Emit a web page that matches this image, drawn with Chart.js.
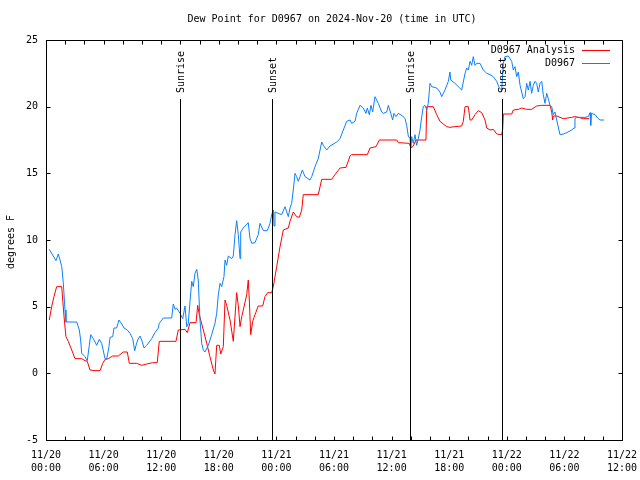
<!DOCTYPE html>
<html>
<head>
<meta charset="utf-8">
<title>Dew Point for D0967</title>
<script src="https://cdn.jsdelivr.net/npm/chart.js@4/dist/chart.umd.min.js"></script>
<style>
  html, body { margin: 0; padding: 0; background: #fff; }
</style>
</head>
<body>
<canvas id="dewChart" width="640" height="480"></canvas>
<script>
// === Data (hours since 11/20 00:00 UTC, degrees F) ===
const stationHours = [0.34,1.04,1.28,1.46,1.64,1.80,1.98,2.08,3.20,3.47,3.61,3.72,4.06,4.30,4.51,4.66,4.93,5.28,5.55,5.80,
  6.15,6.32,6.56,6.67,6.95,7.08,7.36,7.60,7.89,8.13,8.47,8.75,9.03,9.24,9.38,9.55,9.79,9.97,10.21,10.49,
  11.01,11.35,11.70,11.80,12.22,13.09,13.26,13.44,13.61,13.78,13.96,14.24,14.48,14.66,14.82,15.00,15.18,15.34,15.52,15.70,
  15.86,16.04,16.22,16.39,16.56,16.91,17.26,17.60,17.78,17.95,18.13,18.30,18.54,18.65,18.82,18.99,19.34,19.51,19.69,19.86,
  20.03,20.21,20.28,20.55,21.07,21.25,21.43,21.77,22.11,22.29,22.64,23.05,23.33,23.51,23.68,23.75,23.85,24.55,24.90,25.24,
  25.42,25.59,25.76,25.94,26.11,26.28,26.46,26.70,26.98,27.50,27.68,28.02,28.36,28.72,28.89,29.24,29.58,30.28,30.63,30.97,
  31.32,31.67,31.84,32.19,32.36,32.71,33.05,33.33,33.47,33.68,33.85,34.03,34.27,34.61,34.97,35.14,35.49,35.66,35.91,36.11,
  36.25,36.46,36.70,37.16,37.40,37.57,37.74,37.92,37.99,38.09,38.26,38.44,38.61,38.78,38.96,39.14,39.30,39.48,39.66,39.82,
  40.00,40.18,40.70,41.04,41.22,41.56,41.91,42.08,42.16,42.60,43.30,43.65,43.82,43.99,44.17,44.34,44.51,44.69,44.86,45.21,
  45.55,45.91,46.25,46.59,46.95,47.22,47.47,47.64,47.81,48.16,48.51,48.68,48.85,49.03,49.20,49.38,49.55,49.72,49.90,50.07,
  50.24,50.42,50.59,50.76,50.94,51.11,51.28,51.46,51.64,51.80,51.98,52.16,52.32,52.50,52.68,52.84,53.02,53.20,53.54,53.89,
  54.24,54.76,55.00,55.10,55.28,56.15,56.49,56.67,56.74,56.82,57.19,57.53,57.71,58.13];
const stationDew = [9.3,8.45,8.95,8.5,8.0,6.8,4.75,3.85,3.85,3.25,2.5,1.5,1.25,0.95,2.1,2.9,2.6,2.1,2.55,2.25,
  1.1,1.05,2.0,2.7,2.75,3.4,3.4,4.0,3.7,3.4,3.25,3.0,2.6,1.7,2.1,2.5,2.8,2.5,1.9,2.1,
  2.6,3.05,3.4,3.75,4.15,4.15,5.2,4.8,4.9,4.7,4.5,4.1,5.05,3.5,3.75,5.4,6.9,6.5,7.5,7.8,
  7.0,4.0,2.25,1.75,1.6,2.1,2.9,3.75,4.5,5.9,6.75,6.5,7.25,8.5,8.1,8.8,8.6,8.8,10.4,11.45,
  10.4,8.6,10.6,10.9,11.3,10.1,9.75,9.8,10.4,11.25,10.7,10.7,11.25,11.9,12.25,11.05,12.1,11.9,12.5,11.75,
  12.4,12.75,13.75,15.0,14.75,14.4,14.75,15.25,14.75,14.5,14.75,15.5,16.1,17.35,17.1,16.75,17.05,17.35,17.6,18.25,
  18.9,19.0,18.75,18.9,19.5,20.1,19.9,19.5,19.9,19.4,20.1,19.6,20.75,20.25,19.6,19.5,19.6,20.1,19.5,19.0,
  19.5,19.25,19.5,19.3,19.1,18.6,17.8,17.6,16.9,17.75,17.25,17.9,17.1,17.6,18.25,19.25,20.0,20.1,19.75,20.25,
  21.75,21.5,21.4,21.1,20.75,21.25,21.9,22.6,22.0,21.75,21.25,22.5,22.9,22.75,23.4,23.1,23.75,23.1,23.25,23.25,
  22.75,22.5,22.4,22.25,21.9,21.4,21.25,23.25,23.75,23.8,23.4,22.75,23.0,22.25,22.6,21.6,21.1,20.6,20.75,21.75,
  21.25,21.9,21.0,21.6,21.9,21.75,21.1,21.75,21.9,20.9,20.25,21.0,20.6,20.1,20.0,19.4,19.6,19.0,17.9,17.95,
  18.05,18.25,18.4,19.1,19.2,19.2,19.25,19.55,18.6,19.5,19.4,19.1,19.0,19.0];

const analysisHours = [0.34,0.59,0.83,1.11,1.64,1.74,1.91,2.08,2.32,2.68,3.02,3.72,4.06,4.30,4.58,5.10,5.63,5.91,6.15,6.49,
  6.95,7.53,8.05,8.47,8.68,9.45,9.97,10.49,11.11,11.59,11.80,13.54,13.78,14.48,14.72,15.00,15.63,15.80,15.94,16.11,
  16.39,16.74,17.08,17.43,17.60,17.78,18.05,18.20,18.47,18.65,18.82,19.17,19.51,19.86,20.03,20.21,20.39,20.55,20.91,21.07,
  21.18,21.32,21.53,21.77,22.11,22.57,22.81,23.09,23.51,23.68,24.03,24.38,24.72,25.24,25.42,25.76,26.11,26.39,26.64,26.80,
  28.36,28.72,29.76,30.10,30.63,31.25,31.67,31.84,33.47,33.75,34.38,34.72,36.53,36.70,37.84,38.02,38.26,38.54,39.58,39.66,
  40.34,40.70,41.04,41.74,42.08,42.60,43.30,43.47,43.65,43.99,44.17,44.34,44.69,45.03,45.39,45.73,45.91,46.25,46.59,46.95,
  47.47,47.57,47.64,48.51,48.68,49.20,49.55,50.07,50.59,51.11,51.64,52.50,52.68,52.78,52.84,53.20,53.54,53.89,54.76,55.10,
  55.45,55.97,56.59];
const analysisDew = [4.0,5.0,5.75,6.5,6.5,5.5,4.0,2.75,2.4,1.75,1.1,1.1,0.95,0.9,0.25,0.2,0.2,0.75,1.05,1.1,
  1.3,1.3,1.6,1.6,0.75,0.75,0.6,0.7,0.8,0.8,2.4,2.4,3.25,3.3,3.05,3.8,3.8,5.1,4.5,4.0,
  3.25,2.25,1.25,0.25,-0.05,2.1,2.1,1.45,2.0,5.5,5.1,4.0,2.4,6.05,5.1,3.5,4.25,4.75,5.9,7.0,
  5.5,2.9,3.9,4.4,5.05,5.05,5.75,6.05,6.05,6.5,8.0,9.5,10.75,10.9,11.4,12.1,11.75,11.7,12.25,13.4,
  13.4,14.55,14.55,14.9,15.4,15.45,16.3,16.4,16.4,16.9,17.0,17.5,17.5,17.3,17.25,16.9,17.05,17.5,17.5,20.0,
  20.0,19.4,18.9,18.5,18.45,18.5,18.55,18.9,20.0,20.0,19.0,19.0,19.4,19.7,19.55,19.0,18.4,18.25,18.3,17.95,
  17.9,18.3,19.45,19.45,19.75,19.8,19.9,19.8,19.8,20.05,20.1,20.1,19.6,19.0,19.3,19.3,19.2,19.1,19.2,19.25,
  19.2,19.1,19.1];

const sunHours = [13.96, 23.54, 37.92, 47.5];
const sunLabels = ['Sunrise', 'Sunset', 'Sunrise', 'Sunset'];
const sunLineTop = 20.6;

const dayLabels = ['11/20', '11/20', '11/20', '11/20', '11/21', '11/21', '11/21', '11/21', '11/22', '11/22', '11/22'];
const timeLabels = ['00:00', '06:00', '12:00', '18:00', '00:00', '06:00', '12:00', '18:00', '00:00', '06:00', '12:00'];

const MONO = '"DejaVu Sans Mono", "Liberation Mono", monospace';
const RED = '#ff0000';
const BLUE = '#0a80ff';

const toPoints = (xs, ys) => xs.map((h, i) => ({ x: h, y: ys[i] }));

// === gnuplot-like frame, inward ticks, labels, sun markers, legend ===
const gnuplotDecor = {
  id: 'gnuplotDecor',
  afterDatasetsDraw(chart) {
    const { ctx, scales: { x, y } } = chart;
    ctx.save();
    ctx.strokeStyle = '#000';
    ctx.lineWidth = 1;

    // sunrise / sunset lines
    ctx.font = '10px ' + MONO;
    ctx.fillStyle = '#000';
    sunHours.forEach((h, i) => {
      const px = Math.round(x.getPixelForValue(h)) + 0.5;
      ctx.beginPath();
      ctx.moveTo(px, y.getPixelForValue(-5));
      ctx.lineTo(px, Math.round(y.getPixelForValue(sunLineTop)));
      ctx.stroke();
      ctx.save();
      ctx.translate(px + 1, 93);
      ctx.rotate(-Math.PI / 2);
      ctx.textAlign = 'left';
      ctx.textBaseline = 'middle';
      ctx.fillText(sunLabels[i], 0, 0);
      ctx.restore();
    });
    ctx.restore();
  },
  afterDraw(chart) {
    const { ctx, chartArea: a, scales: { x, y } } = chart;
    ctx.save();
    ctx.strokeStyle = '#000';
    ctx.lineWidth = 1;
    const L = Math.round(a.left) + 0.5, R = Math.round(a.right) + 0.5;
    const T = Math.round(a.top) + 0.5, B = Math.round(a.bottom) + 0.5;
    ctx.strokeRect(L, T, R - L, B - T);

    ctx.beginPath();
    x.ticks.forEach(t => {
      const px = Math.round(x.getPixelForValue(t.value)) + 0.5;
      ctx.moveTo(px, B); ctx.lineTo(px, B - 4);
      ctx.moveTo(px, T); ctx.lineTo(px, T + 4);
    });
    y.ticks.forEach(t => {
      const py = Math.round(y.getPixelForValue(t.value)) + 0.5;
      ctx.moveTo(L, py); ctx.lineTo(L + 4, py);
      ctx.moveTo(R, py); ctx.lineTo(R - 4, py);
    });
    ctx.stroke();

    // title + axis label
    ctx.fillStyle = '#000';
    ctx.font = '10px ' + MONO;
    ctx.textAlign = 'center';
    ctx.textBaseline = 'middle';
    ctx.fillText('Dew Point for D0967 on 2024-Nov-20 (time in UTC)', 332, 19);
    ctx.save();
    ctx.translate(11, 242);
    ctx.rotate(-Math.PI / 2);
    ctx.fillText('degrees F', 0, 0);
    ctx.restore();

    // legend
    const rows = [['D0967 Analysis', RED, 50], ['D0967', BLUE, 63]];
    ctx.textAlign = 'right';
    rows.forEach(([label, color, ry]) => {
      ctx.fillStyle = '#000';
      ctx.fillText(label, 575, ry);
      ctx.strokeStyle = color;
      ctx.beginPath();
      ctx.moveTo(582, ry + 0.5);
      ctx.lineTo(610, ry + 0.5);
      ctx.stroke();
    });
    ctx.restore();
  }
};

// ====== Chart.js ======
const dewChart = new Chart(document.getElementById('dewChart'), {
  type: 'line',
  data: {
    datasets: [
      {
        label: 'D0967',
        data: toPoints(stationHours, stationDew),
        borderColor: BLUE,
        borderWidth: 1,
        pointRadius: 0,
        tension: 0,
        order: 0
      },
      {
        label: 'D0967 Analysis',
        data: toPoints(analysisHours, analysisDew),
        borderColor: RED,
        borderWidth: 1,
        pointRadius: 0,
        tension: 0,
        order: 1
      }
    ]
  },
  options: {
    responsive: false,
    animation: false,
    layout: { padding: { top: 40, right: 18, left: 0, bottom: 0 } },
    plugins: { legend: { display: false }, title: { display: false }, tooltip: { enabled: false } },
    scales: {
      x: {
        type: 'linear',
        min: 0,
        max: 60,
        grid: { display: false },
        border: { display: false },
        afterFit: s => { s.height = 40; s.paddingLeft = 0; s.paddingRight = 0; },
        ticks: {
          stepSize: 2,
          autoSkip: false,
          maxRotation: 0,
          padding: 1,
          color: '#000',
          font: { family: MONO, size: 10, lineHeight: 1.3 },
          callback: v => (v % 6 === 0 ? [dayLabels[v / 6], timeLabels[v / 6]] : '')
        }
      },
      y: {
        min: -5,
        max: 25,
        grid: { display: false },
        border: { display: false },
        afterFit: s => { s.width = 46; s.paddingTop = 0; s.paddingBottom = 0; },
        ticks: {
          stepSize: 5,
          padding: 0,
          color: '#000',
          font: { family: MONO, size: 10 }
        }
      }
    }
  },
  plugins: [gnuplotDecor]
});
</script>
</body>
</html>
